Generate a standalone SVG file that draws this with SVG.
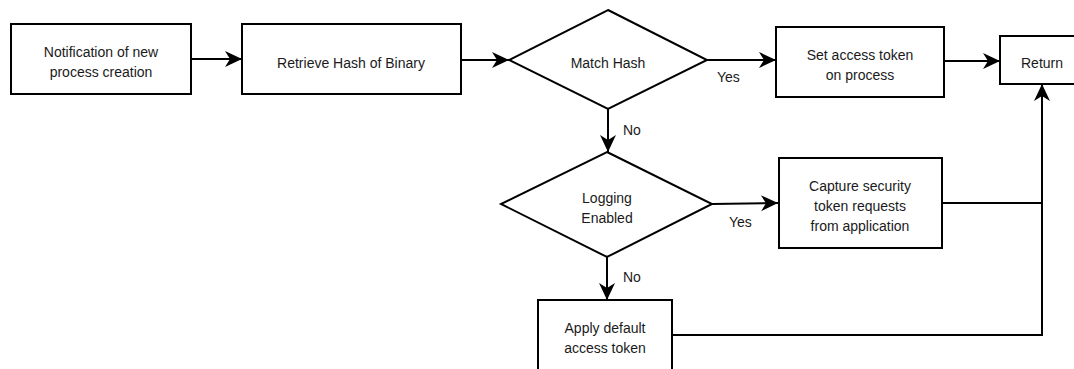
<svg xmlns="http://www.w3.org/2000/svg" width="1074" height="369" viewBox="0 0 1074 369">
<style>
  .node { fill: #ffffff; stroke: #000000; stroke-width: 2; }
  .label { font-family: "Liberation Sans", Arial, sans-serif; font-size: 14px; fill: #1a1a1a; text-anchor: middle; }
  .edge-label { font-family: "Liberation Sans", Arial, sans-serif; font-size: 14px; fill: #1a1a1a; text-anchor: start; }
  .conn { fill: none; stroke: #000000; stroke-width: 2; }
  .arrow { marker-end: url(#arrowhead); }
</style>
<defs>
  <marker id="arrowhead" markerUnits="userSpaceOnUse" markerWidth="18" markerHeight="17" refX="17" refY="8" orient="auto" overflow="visible">
    <path d="M0,0 L17,8 L0,16 L5,8 Z" fill="#000000"/>
  </marker>
</defs>
<rect width="1074" height="369" fill="#ffffff"/>

<g id="connectors">
  <line class="conn arrow" x1="191" y1="59" x2="242" y2="59"/>
  <line class="conn arrow" x1="461" y1="60" x2="509" y2="60"/>
  <line class="conn arrow" x1="707" y1="60" x2="776" y2="60"/>
  <line class="conn arrow" x1="944" y1="61" x2="1000" y2="61"/>
  <line class="conn arrow" x1="608" y1="109" x2="608" y2="152"/>
  <line class="conn arrow" x1="712" y1="204" x2="778" y2="203"/>
  <line class="conn arrow" x1="607" y1="257" x2="607" y2="300"/>
  <line class="conn" x1="942" y1="203" x2="1042" y2="203"/>
  <polyline class="conn arrow" points="672,335 1042,335 1042,84"/>
  <text class="edge-label" x="717" y="82">Yes</text>
  <text class="edge-label" x="623" y="135">No</text>
  <text class="edge-label" x="729" y="227">Yes</text>
  <text class="edge-label" x="623" y="282">No</text>
</g>

<g id="node-notification">
  <rect class="node" x="11" y="24" width="180" height="70"/>
  <text class="label" x="101" y="57">Notification of new</text>
  <text class="label" x="101" y="77">process creation</text>
</g>

<g id="node-retrieve">
  <rect class="node" x="242" y="24" width="219" height="70"/>
  <text class="label" x="351" y="68">Retrieve Hash of Binary</text>
</g>

<g id="node-match">
  <polygon class="node" points="608,10 707,60 608,109 509,60"/>
  <text class="label" x="608" y="68">Match Hash</text>
</g>

<g id="node-set-token">
  <rect class="node" x="776" y="27" width="168" height="70"/>
  <text class="label" x="860" y="60">Set access token</text>
  <text class="label" x="860" y="80">on process</text>
</g>

<g id="node-return">
  <rect class="node" x="1000" y="36" width="84" height="48"/>
  <text class="label" x="1042" y="68">Return</text>
</g>

<g id="node-logging">
  <polygon class="node" points="607,152 712,204 607,257 501,204"/>
  <text class="label" x="607" y="203">Logging</text>
  <text class="label" x="607" y="223">Enabled</text>
</g>

<g id="node-capture">
  <rect class="node" x="779" y="158" width="163" height="90"/>
  <text class="label" x="860" y="191">Capture security</text>
  <text class="label" x="860" y="211">token requests</text>
  <text class="label" x="860" y="231">from application</text>
</g>

<g id="node-apply">
  <rect class="node" x="538" y="300" width="134" height="70"/>
  <text class="label" x="605" y="333">Apply default</text>
  <text class="label" x="605" y="353">access token</text>
</g>
</svg>
